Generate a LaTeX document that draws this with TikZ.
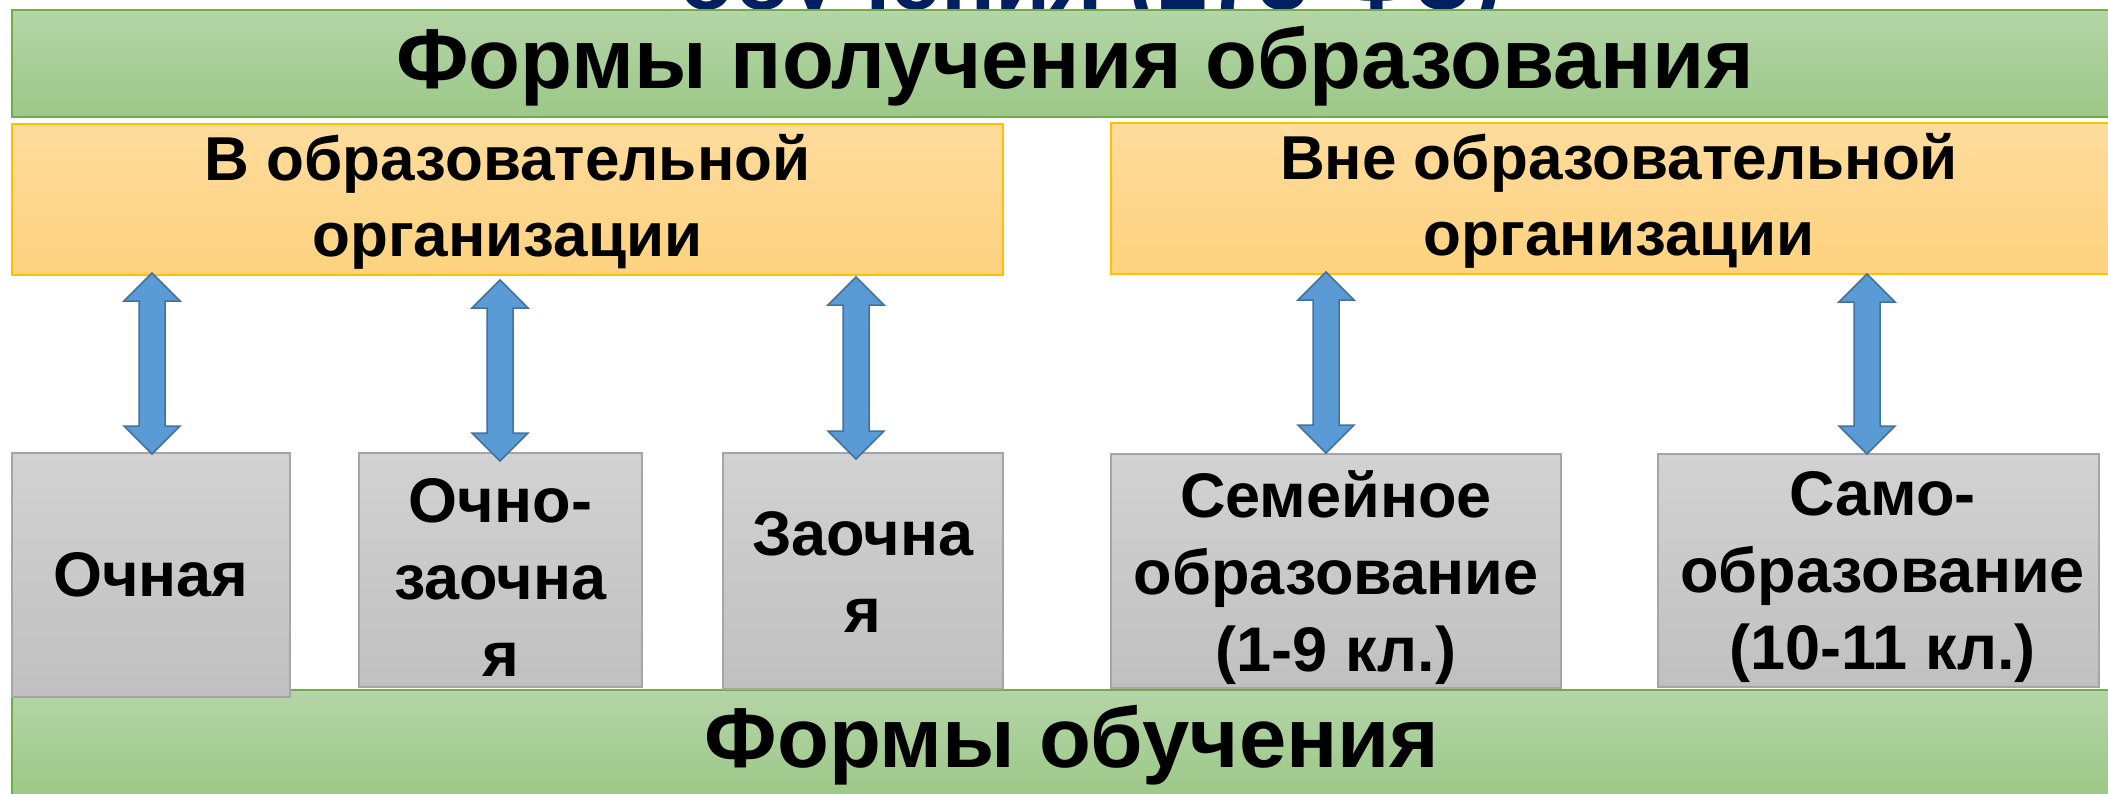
\documentclass[tikz,border=0pt]{standalone}
\usepackage{fontspec}
\setmainfont{Liberation Sans}
\usetikzlibrary{calc}
\definecolor{grtop}{HTML}{B4D5A6}
\definecolor{grbot}{HTML}{9CC888}
\definecolor{grline}{HTML}{70AD47}
\definecolor{yetop}{HTML}{FEDC9C}
\definecolor{yebot}{HTML}{FED27F}
\definecolor{yeline}{HTML}{FFC000}
\definecolor{gytop}{HTML}{D2D2D2}
\definecolor{gybot}{HTML}{C0C0C0}
\definecolor{gyline}{HTML}{A5A5A5}
\definecolor{arrfill}{HTML}{5B9BD5}
\definecolor{arrline}{HTML}{41719C}
\definecolor{navy}{HTML}{002060}
\newcommand\twoarrow[2]{%
  \draw[arrowsty] let \p1=(#1), \p2=(#2) in
    (\x1,\y1) -- ++(28,28) -- ++(-15,0) -- (\x1+13pt,\y2+28pt) -- ++(15,0)
    -- (\x1,\y2) -- ++(-28,-28) -- ++(15,0) -- (\x1-13pt,\y1-28pt) -- ++(-15,0) -- cycle;}
\begin{document}
\begin{tikzpicture}[x=1pt,y=-1pt,
  greenbox/.style={draw=grline,line width=2pt,top color=grtop,bottom color=grbot,inner sep=0pt},
  greentext/.style={font=\fontsize{85}{95}\selectfont\bfseries,inner sep=0pt},
  yellowbox/.style={draw=yeline,line width=2pt,top color=yetop,bottom color=yebot,inner sep=0pt},
  yellowtext/.style={font=\fontsize{62}{76}\selectfont\bfseries,align=center,inner sep=0pt},
  graybox/.style={draw=gyline,line width=2pt,top color=gytop,bottom color=gybot,inner sep=0pt},
  graytext/.style={font=\fontsize{63}{77}\selectfont\bfseries,align=center,inner sep=0pt},
  arrowsty/.style={fill=arrfill,draw=arrline,line width=1.5pt,line join=miter}]
\useasboundingbox (0,0) rectangle (2108,793);
\clip (0,0) rectangle (2108,793);
\fill[white] (0,0) rectangle (2108,793);
% cut-off title
\node[anchor=base west,inner sep=0pt,text=navy,font=\fontsize{90}{100}\selectfont\bfseries] (ttl) at (679,9) {обучения (273-ФЗ)};
% green bars
\node[greenbox,minimum width=2126pt,minimum height=107pt] (g1) at (1075,63.5) {};
\node[greentext] (g1t) at ($(g1)+(0,3)$) {Формы получения образования};
\node[greenbox,minimum width=2120pt,minimum height=108pt] (g2) at (1072,744) {};
\node[greentext] (g2t) at ($(g2)+(0,1)$) {Формы обучения};
% yellow boxes
\node[yellowbox,minimum width=991pt,minimum height=151pt] (y1) at (507.5,199.5) {};
\node[yellowtext] (y1t) at ($(y1)+(0,2)$) {В образовательной\\организации};
\node[yellowbox,minimum width=1016pt,minimum height=151pt] (y2) at (1619,198.5) {};
\node[yellowtext] (y2t) at ($(y2)+(0,2)$) {Вне образовательной\\организации};
% gray boxes
\node[graybox,minimum width=278pt,minimum height=244pt] (b1) at (151,575) {};
\node[graytext] (b1t) at (b1) {Очная};
\node[graybox,minimum width=283pt,minimum height=234pt] (b2) at (500.5,570) {};
\node[graytext] (b2t) at ($(b2)+(0,7)$) {Очно-\\заочна\\я};
\node[graybox,minimum width=280pt,minimum height=236pt] (b3) at (863,571) {};
\node[graytext] (b3t) at ($(b3)+(0,1)$) {Заочна\\я};
\node[graybox,minimum width=450pt,minimum height=234pt] (b4) at (1336,571) {};
\node[graytext] (b4t) at ($(b4)+(0,7)$) {Семейное\\образование\\(1-9 кл.)};
\node[graybox,minimum width=441pt,minimum height=233pt] (b5) at (1878.5,570.5) {};
\node[graytext] (b5t) at ($(b5)+(4,7)$) {Само-\\образование\\(10-11 кл.)};
% arrow end points
\coordinate (a1t) at ($(y1.south -| 152,0)+(0,-3)$);
\coordinate (a1b) at ($(b1.north -| 152,0)+(0,2)$);
\coordinate (a2t) at ($(y1.south -| 500,0)+(0,4)$);
\coordinate (a2b) at ($(b2.north -| 500,0)+(0,9)$);
\coordinate (a3t) at ($(y1.south -| 856,0)+(0,1)$);
\coordinate (a3b) at ($(b3.north -| 856,0)+(0,7)$);
\coordinate (a4t) at ($(y2.south -| 1326,0)+(0,-3)$);
\coordinate (a4b) at ($(b4.north -| 1326,0)+(0,0)$);
\coordinate (a5t) at ($(y2.south -| 1867,0)+(0,-1)$);
\coordinate (a5b) at ($(b5.north -| 1867,0)+(0,1)$);
\twoarrow{a1t}{a1b}
\twoarrow{a2t}{a2b}
\twoarrow{a3t}{a3b}
\twoarrow{a4t}{a4b}
\twoarrow{a5t}{a5b}
\end{tikzpicture}
\end{document}
